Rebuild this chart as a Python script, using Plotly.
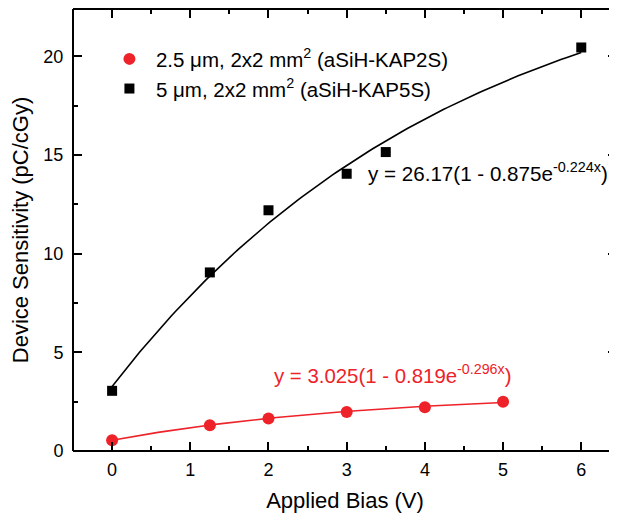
import numpy as np
import plotly.graph_objects as go

# Data
bias_2s = [0, 1.25, 2, 3, 4, 5]
sens_2s = [0.55, 1.3, 1.65, 1.98, 2.22, 2.5]
bias_5s = [0, 1.25, 2, 3, 3.5, 6]
sens_5s = [3.05, 9.05, 12.2, 14.05, 15.15, 20.45]

# Fit parameters shown on the chart: y = A(1 - B e^{-C x})
fit_2s = (3.025, 0.819, 0.296)
fit_5s = (26.17, 0.875, 0.224)

label_2s = "2.5 \u03bcm, 2x2 mm<sup>2</sup> (aSiH-KAP2S)"
label_5s = "5 \u03bcm, 2x2 mm<sup>2</sup> (aSiH-KAP5S)"

RED = "#ee2229"
BLACK = "#000000"
FONT = "Liberation Sans, Arial, sans-serif"


def fit_curve(p, xmax):
    a, b, c = p
    x = np.linspace(0, xmax, 120)
    return x, a * (1 - b * np.exp(-c * x))


fig = go.Figure()
xf, yf = fit_curve(fit_5s, max(bias_5s))
fig.add_trace(go.Scatter(x=xf, y=yf, mode="lines", line=dict(color=BLACK, width=1.6),
                         showlegend=False, hoverinfo="skip"))
xf, yf = fit_curve(fit_2s, max(bias_2s))
fig.add_trace(go.Scatter(x=xf, y=yf, mode="lines", line=dict(color=RED, width=1.6),
                         showlegend=False, hoverinfo="skip"))
fig.add_trace(go.Scatter(x=bias_2s, y=sens_2s, mode="markers", name=label_2s,
                         marker=dict(symbol="circle", size=12, color=RED)))
fig.add_trace(go.Scatter(x=bias_5s, y=sens_5s, mode="markers", name=label_5s,
                         marker=dict(symbol="square", size=10, color=BLACK)))

axis_common = dict(
    showgrid=False, zeroline=False, showline=True, linecolor="rgba(0,0,0,0)",
    mirror="ticks", ticks="inside", tickcolor=BLACK, tickwidth=1.5, ticklen=9,
    tickfont=dict(family=FONT, size=18, color=BLACK), automargin=False,
)

# The page body adds an 8px offset; the figure is sized to the remaining view.
fig.update_layout(
    width=609, height=505,
    margin=dict(l=65, r=0, t=1, b=62),
    paper_bgcolor="white", plot_bgcolor="white",
    font=dict(family=FONT, color=BLACK),
    xaxis=dict(axis_common, range=[-0.5, 6.457], tickvals=[0, 1, 2, 3, 4, 5, 6],
               ticklabelstandoff=2,
               minor=dict(ticks="inside", ticklen=5, tickwidth=1.5, tickcolor=BLACK, dtick=0.5, tick0=0.5),
               title=dict(text="Applied Bias (V)", font=dict(family=FONT, size=22))),
    yaxis=dict(axis_common, range=[0, 22.4], tickvals=[0, 5, 10, 15, 20],
               ticklabelstandoff=5,
               minor=dict(ticks="inside", ticklen=5, tickwidth=1.5, tickcolor=BLACK, dtick=2.5, tick0=0),
               title=dict(text="Device Sensitivity (pC/cGy)", font=dict(family=FONT, size=22))),
    legend=dict(x=0.055, y=0.932, xanchor="left", yanchor="top", bgcolor="rgba(0,0,0,0)",
                font=dict(family=FONT, size=20.5), itemwidth=43, tracegroupgap=0),
    shapes=[
        dict(type="line", xref="paper", yref="paper", x0=0, x1=0, y0=0, y1=1, line=dict(color=BLACK, width=2)),
        dict(type="line", xref="paper", yref="paper", x0=0, x1=1, y0=0, y1=0, line=dict(color=BLACK, width=2)),
        dict(type="line", xref="paper", yref="paper", x0=0, x1=1, y0=1, y1=1, line=dict(color=BLACK, width=2)),
    ],
    annotations=[
        dict(x=3.25, y=14.15, xref="x", yref="y", xanchor="left", yanchor="middle", showarrow=False,
             text="y = 26.17(1 - 0.875e<sup>-0.224x</sup>)", font=dict(family=FONT, size=20.6, color=BLACK)),
        dict(x=2.05, y=3.88, xref="x", yref="y", xanchor="left", yanchor="middle", showarrow=False,
             text="y = 3.025(1 - 0.819e<sup>-0.296x</sup>)", font=dict(family=FONT, size=20.4, color=RED)),
    ],
)

fig.write_html("out.html")
